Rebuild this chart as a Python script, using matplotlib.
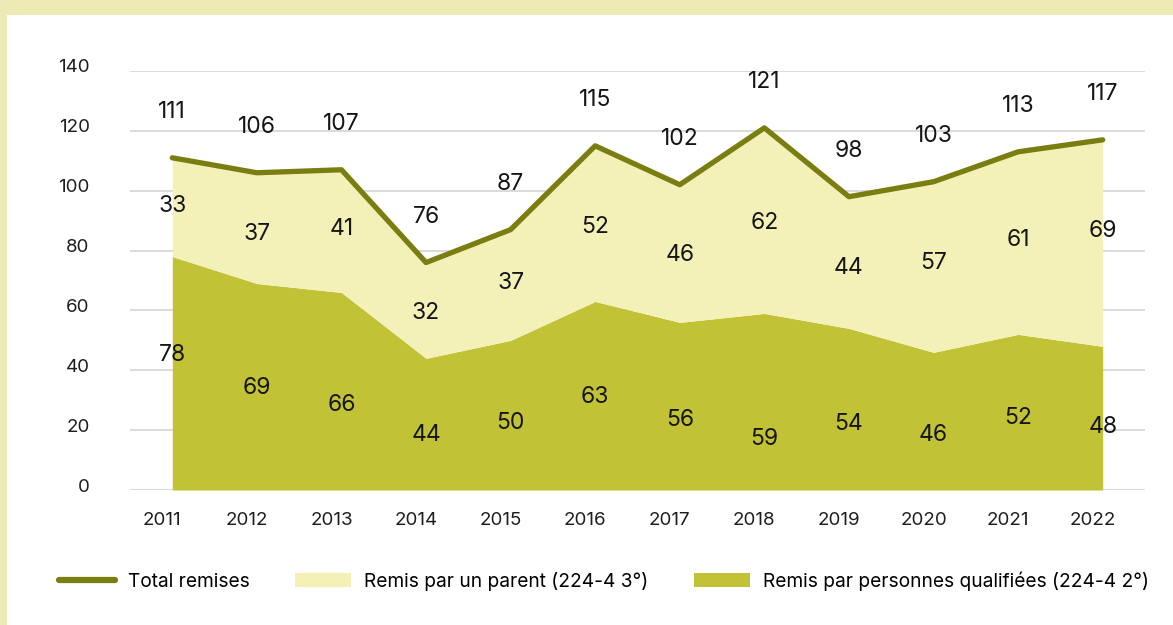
import numpy as np
import matplotlib.pyplot as plt
import matplotlib.transforms as mtransforms
from matplotlib.patches import Rectangle, Patch
from matplotlib.lines import Line2D

plt.rcParams['font.family'] = ['Inter', 'DejaVu Sans']

# données
annees = ['2011', '2012', '2013', '2014', '2015', '2016',
          '2017', '2018', '2019', '2020', '2021', '2022']
qualifiees = [78, 69, 66, 44, 50, 63, 56, 59, 54, 46, 52, 48]
parent = [33, 37, 41, 32, 37, 52, 46, 62, 44, 57, 61, 69]
total = [111, 106, 107, 76, 87, 115, 102, 121, 98, 103, 113, 117]
yticks = [0, 20, 40, 60, 80, 100, 120, 140]

# hauteur des étiquettes (placées à la main dans l'original)
pos_qual = [45, 34, 28.5, 18.5, 22.5, 31, 23.5, 17, 22, 18.5, 24, 21]
pos_parent = [95, 85.5, 87.3, 59.2, 69, 88, 78.6, 89.3, 74.2, 75.9, 83.6, 86.6]

c_line = '#7a7d10'
c_parent = '#f3f1b8'
c_qual = '#c2c236'
c_fond = '#eeeab6'

x = np.arange(len(annees))
bas = np.array(qualifiees)
haut = bas + np.array(parent)

fig = plt.figure(figsize=(11.73, 6.25), dpi=100, facecolor=c_fond)
fig.patches.append(Rectangle((7 / 1173, 0), 1, (625 - 15) / 625,
                             transform=fig.transFigure, facecolor='white',
                             edgecolor='none', zorder=-10))
ax = fig.add_axes([130 / 1173, 135 / 625, 1015 / 1173, 419 / 625])
ax.set_facecolor('none')

ax.fill_between(x, 0, bas, color=c_qual, lw=0, zorder=2)
ax.fill_between(x, bas, haut, color=c_parent, lw=0, zorder=2)
ax.plot(x, total, color=c_line, lw=3.8, solid_capstyle='round', zorder=3)

for i in range(len(x)):
    ax.annotate(str(total[i]), (x[i], total[i]), xytext=(0, 33),
                textcoords='offset points', ha='center', va='center',
                fontsize=16.5, color='#151515', zorder=4)
    ax.text(x[i], pos_parent[i], str(parent[i]), ha='center',
            va='center', fontsize=16.5, color='#151515', zorder=4)
    ax.text(x[i], pos_qual[i], str(qualifiees[i]), ha='center',
            va='center', fontsize=16.5, color='#151515', zorder=4)

ax.set_xlim(-0.5, len(x) - 0.5)
ax.set_ylim(0, 140)
ax.set_yticks(yticks)
ax.set_xticks(x)
ax.set_xticklabels(annees)
ax.grid(axis='y', color='#d4d4d4', lw=1.2, zorder=1)
ax.set_axisbelow(True)
for s in ax.spines.values():
    s.set_visible(False)
ax.tick_params(length=0, labelsize=13.5, colors='#1e1e1e')
ax.tick_params(axis='y', pad=29)
ax.tick_params(axis='x', pad=16)

dy = mtransforms.ScaledTranslation(0, 5 / 100, fig.dpi_scale_trans)
for lab in ax.get_yticklabels():
    lab.set_transform(lab.get_transform() + dy)
dx = mtransforms.ScaledTranslation(-10 / 100, 0, fig.dpi_scale_trans)
for lab in ax.get_xticklabels():
    lab.set_transform(lab.get_transform() + dx)

handles = [Line2D([0], [0], color=c_line, lw=4.5, solid_capstyle='round'),
           Patch(facecolor=c_parent, edgecolor='none'),
           Patch(facecolor=c_qual, edgecolor='none')]
noms = ['Total remises', 'Remis par un parent (224-4 3°)',
        'Remis par personnes qualifiées (224-4 2°)']
fig.legend(handles, noms, loc='center', bbox_to_anchor=(604 / 1173, 44 / 625),
           ncol=3, frameon=False, fontsize=13.8, handlelength=2.9,
           handleheight=0.8, handletextpad=0.68, columnspacing=2.4)

plt.savefig('out.png', dpi=100, facecolor=fig.get_facecolor())
